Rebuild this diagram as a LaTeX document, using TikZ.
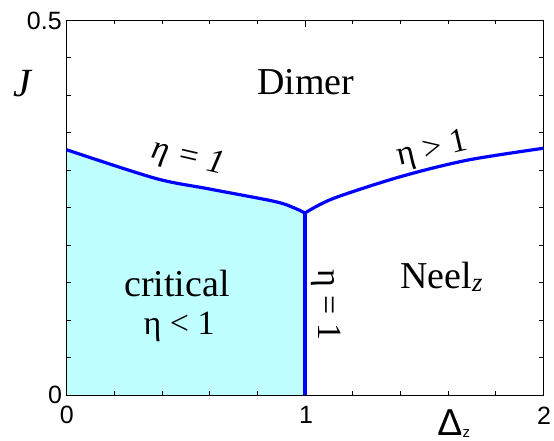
\documentclass[tikz,border=0pt]{standalone}
\usepackage{fontspec}
\setmainfont{Liberation Serif}
\setsansfont{Liberation Sans}
\usetikzlibrary{positioning}

\begin{document}
\begin{tikzpicture}[x=238.3bp, y=750bp]
  \tikzset{phaseline/.style={blue, line width=3.2bp, line join=round},
    critfill/.style={fill={rgb,255:red,192;green,255;blue,255}},
    axistick/.style={line width=0.8bp},
    ticklabel/.style={font=\sffamily\fontsize{25bp}{25bp}\selectfont, inner sep=0pt},
    phaselabel/.style={font=\fontsize{38bp}{40bp}\selectfont, inner sep=0pt},
    etalabel/.style={font=\fontsize{34bp}{36bp}\selectfont, inner sep=0pt}}
  \useasboundingbox (-0.2799,-0.0613) rectangle (2.0449,0.5267);
  % critical region
  \fill[critfill] (0,0) -- plot[smooth, tension=0.5] coordinates {(0,0.327) (0.371,0.289) (0.594,0.275) (0.874,0.258) (0.958,0.249) (1,0.2427)} -- (1,0) -- cycle;
  % frame and ticks
  \draw[line width=1bp] (0,0) rectangle (2,0.5);
  \foreach \x in {0.2,0.4,0.6,0.8,1.2,1.4,1.6,1.8} {
    \draw[axistick] (\x,0) -- ++(0,4bp);
    \draw[axistick] (\x,0.5) -- ++(0,-4bp);
  }
  \draw[axistick] (1,0) -- ++(0,7bp);
  \draw[axistick] (1,0.5) -- ++(0,-7bp);
  \foreach \y in {0.05,0.1,0.15,0.2,0.25,0.3,0.35,0.4,0.45} {
    \draw[axistick] (0,\y) -- ++(4bp,0);
    \draw[axistick] (2,\y) -- ++(-4bp,0);
  }
  % phase boundaries
  \coordinate (kink) at (1,0.2427);
  \draw[phaseline] (0,0.327) plot[smooth, tension=0.5] coordinates {(0,0.327) (0.371,0.289) (0.594,0.275) (0.874,0.258) (0.958,0.249) (1,0.2427)};
  \draw[phaseline] (kink) plot[smooth, tension=0.5] coordinates {(1,0.2427) (1.118,0.262) (1.399,0.291) (1.679,0.313) (2,0.329)};
  \draw[phaseline] (1,0) -- (kink);
  % axis labels
  \node[ticklabel, anchor=east] (yhalf) at (-0.02,0.499) {0.5};
  \node[ticklabel] (yzero) at (-0.049,0) {0};
  \node[ticklabel] (xzero) at (0,-0.027) {0};
  \node[ticklabel] (xone) at (1.004,-0.027) {1};
  \node[ticklabel] (xtwo) at (2.003,-0.027) {2};
  \node[ticklabel, anchor=base west] (xname) at (1.555,-0.0535) {\scalebox{1.5}{Δ}\raisebox{-2.5bp}{\fontsize{15bp}{15bp}\selectfont z}};
  \node[font=\fontsize{40bp}{40bp}\selectfont\itshape, inner sep=0pt] (yname) at (-0.187,0.415) {J};
  % phase labels
  \node[phaselabel] (dimer) at (1.004,0.417) {Dimer};
  \node[phaselabel] (crit) at (0.463,0.149) {critical};
  \node[etalabel] (etaless) at (0.472,0.0907) {η < 1};
  \node[phaselabel, anchor=base west] (neel) at (1.399,0.1427) {Neel\textsubscript{\itshape z}};
  \node[etalabel, rotate=-13] (etaleft) at (0.51,0.315) {\itshape η = 1};
  \node[etalabel, rotate=13] (etaright) at (1.535,0.326) {η > 1};
  \node[etalabel, rotate=-90] (etavert) at (1.089,0.12) {η = 1};
\end{tikzpicture}
\end{document}
